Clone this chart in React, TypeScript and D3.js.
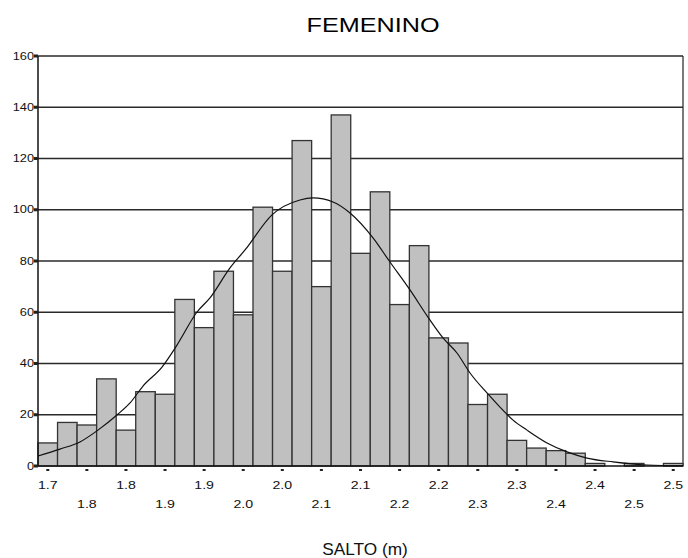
import React from 'react';
import * as d3 from 'd3';

// bin centres (m) and counts
const binCenters = [
  1.7, 1.725, 1.75, 1.775, 1.8, 1.825, 1.85, 1.875, 1.9, 1.925, 1.95,
  1.975, 2.0, 2.025, 2.05, 2.075, 2.1, 2.125, 2.15, 2.175, 2.2, 2.225,
  2.25, 2.275, 2.3, 2.325, 2.35, 2.375, 2.4, 2.425, 2.45, 2.475, 2.5,
];
const counts = [
  9, 17, 16, 34, 14, 29, 28, 65, 54, 76, 59, 101, 76, 127, 70, 137, 83,
  107, 63, 86, 50, 48, 24, 28, 10, 7, 6, 5, 1, 0, 1, 0, 1,
];

// normal curve
const curveX = [
  1.6875, 1.7156, 1.7412, 1.7642, 1.7885, 1.8052, 1.8218, 1.8461, 1.8653,
  1.8909, 1.9075, 1.9331, 1.9523, 1.9868, 2.0226, 2.0393, 2.0649, 2.0866,
  2.116, 2.1377, 2.1633, 2.1863, 2.2055, 2.2234, 2.2401, 2.2618, 2.2784,
  2.2951, 2.313, 2.3386, 2.3642, 2.3897, 2.423, 2.4665, 2.5125,
];
const curveY = [
  3.9, 6.6, 9.4, 14.0, 19.9, 24.6, 31.2, 38.6, 47.2, 60.1, 65.6, 77.3,
  84.3, 98.0, 103.8, 104.6, 103.0, 98.7, 89.0, 79.6, 68.7, 58.1, 50.0,
  44.1, 36.3, 28.5, 23.0, 17.9, 14.0, 9.0, 5.5, 3.1, 1.6, 0.4, 0.1,
];

const xTicks = [
  1.7, 1.75, 1.8, 1.85, 1.9, 1.95, 2.0, 2.05, 2.1, 2.15, 2.2, 2.25, 2.3,
  2.35, 2.4, 2.45, 2.5,
];
const xTickLabels = [
  '1.7', '1.8', '1.8', '1.9', '1.9', '2.0', '2.0', '2.1', '2.1', '2.2',
  '2.2', '2.3', '2.3', '2.4', '2.4', '2.5', '2.5',
];
const yTicks = [0, 20, 40, 60, 80, 100, 120, 140, 160];

const FONT = 'Liberation Sans, Arial, sans-serif';

export default function App() {
  const width = 688;
  const height = 558;
  const left = 38;
  const right = 683;
  const top = 56;
  const bottom = 466;
  const binW = 0.025;

  const x = d3.scaleLinear().domain([1.6875, 2.5125]).range([left, right]);
  const y = d3.scaleLinear().domain([0, 160]).range([bottom, top]);

  const line = d3
    .line<number>()
    .x((d, i) => x(curveX[i]))
    .y((d) => y(d))
    .curve(d3.curveMonotoneX);

  return (
    <div style={{ position: 'absolute', left: 0, top: 0 }}>
      <svg width={width} height={height} style={{ display: 'block' }}>
        <rect width={width} height={height} fill="#fff" />

        {/* grid */}
        {yTicks.slice(1).map((t) => (
          <line
            key={t}
            x1={left}
            x2={right}
            y1={y(t)}
            y2={y(t)}
            stroke="#2a2a2a"
            strokeWidth={1.5}
          />
        ))}
        <line x1={right} x2={right} y1={top} y2={bottom} stroke="#222" strokeWidth={1.2} />

        {/* bars */}
        {counts.map((c, i) =>
          c > 0 ? (
            <rect
              key={i}
              x={x(binCenters[i] - binW / 2)}
              y={y(c)}
              width={x(binCenters[i] + binW / 2) - x(binCenters[i] - binW / 2)}
              height={y(0) - y(c)}
              fill="#c0c0c0"
              stroke="#333"
              strokeWidth={1.3}
            />
          ) : null
        )}

        <path d={line(curveY) || ''} fill="none" stroke="#111" strokeWidth={1.2} />

        {/* axes */}
        <line x1={left} x2={left} y1={top} y2={bottom} stroke="#111" strokeWidth={1.5} />
        <line x1={left} x2={right} y1={bottom} y2={bottom} stroke="#111" strokeWidth={1.5} />

        {yTicks.map((t) => (
          <g key={t}>
            <rect x={left - 4} y={y(t) - 1.5} width={4} height={3} fill="#222" />
            <text
              transform={`translate(${left - 4},${y(t) + 3.6}) scale(1.28,1)`}
              textAnchor="end"
              fontFamily={FONT}
              fontSize={10}
              fill="#111"
            >
              {t}
            </text>
          </g>
        ))}

        {xTicks.map((t, i) => (
          <g key={t}>
            <rect x={x(t) - 1.5} y={bottom + 3} width={3} height={2} fill="#222" />
            <text
              transform={`translate(${x(t)},${i % 2 === 0 ? 488.5 : 508}) scale(1.22,1)`}
              textAnchor="middle"
              fontFamily={FONT}
              fontSize={11.6}
              fill="#111"
            >
              {xTickLabels[i]}
            </text>
          </g>
        ))}

        <text
          transform="translate(373,32.3) scale(1.2,1)"
          textAnchor="middle"
          fontFamily={FONT}
          fontSize={21}
          fill="#000"
        >
          FEMENINO
        </text>
        <text
          transform="translate(365,555) scale(1.08,1)"
          textAnchor="middle"
          fontFamily={FONT}
          fontSize={16}
          fill="#111"
        >
          SALTO (m)
        </text>
      </svg>
    </div>
  );
}
